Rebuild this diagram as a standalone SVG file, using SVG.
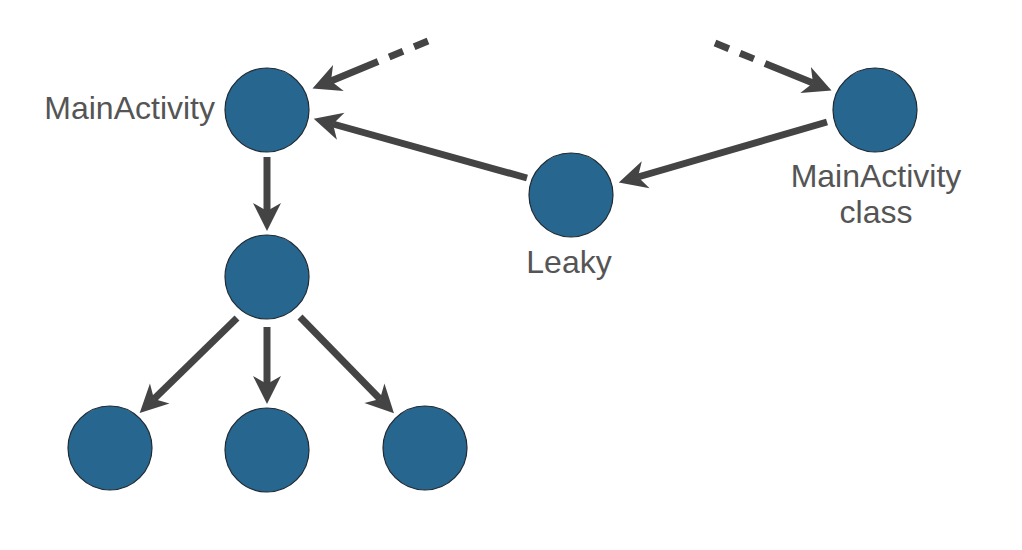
<svg xmlns="http://www.w3.org/2000/svg" width="1022" height="550" viewBox="0 0 1022 550">
<style>
.node circle{fill:#27668f;stroke:#1f2a33;stroke-width:1.2}
.lbl{font-family:"Liberation Sans",Arial,sans-serif;font-size:32px;fill:#555555}
.edge{stroke:#444444;stroke-width:7;fill:none;marker-end:url(#ah)}
.dash{stroke-dasharray:15 12 15 12 500}
</style>
<defs>
<marker id="ah" markerUnits="userSpaceOnUse" viewBox="0 0 30 30" refX="9" refY="15" markerWidth="30" markerHeight="30" orient="auto">
<path d="M29,15 L1,1 L9,15 L1,29 Z" fill="#444444"/>
</marker>
</defs>
<rect width="1022" height="550" fill="#ffffff"/>
<g id="connectors">
<line class="edge" x1="267" y1="157" x2="267" y2="211"/>
<line class="edge" x1="237" y1="318" x2="154" y2="399"/>
<line class="edge" x1="267" y1="327" x2="267" y2="384"/>
<line class="edge" x1="300" y1="317" x2="380" y2="399"/>
<line class="edge" x1="527" y1="178" x2="333" y2="124"/>
<line class="edge" x1="827" y1="122" x2="638" y2="177"/>
<line class="edge dash" x1="428" y1="41" x2="331" y2="81"/>
<line class="edge dash" x1="715" y1="43" x2="813" y2="83"/>
</g>
<g id="mainActivity" class="node"><circle cx="267" cy="110" r="42"/><text class="lbl" x="215" y="119" text-anchor="end">MainActivity</text></g>
<g id="child" class="node"><circle cx="267" cy="277" r="42"/></g>
<g id="leafLeft" class="node"><circle cx="110" cy="448" r="42"/></g>
<g id="leafMid" class="node"><circle cx="267" cy="450" r="42"/></g>
<g id="leafRight" class="node"><circle cx="425" cy="448" r="42"/></g>
<g id="leaky" class="node"><circle cx="571" cy="195" r="42"/><text class="lbl" x="569" y="273" text-anchor="middle">Leaky</text></g>
<g id="mainActivityClass" class="node"><circle cx="875" cy="110" r="42"/><text class="lbl" x="876" y="187" text-anchor="middle">MainActivity</text><text class="lbl" x="876" y="223" text-anchor="middle">class</text></g>
</svg>
